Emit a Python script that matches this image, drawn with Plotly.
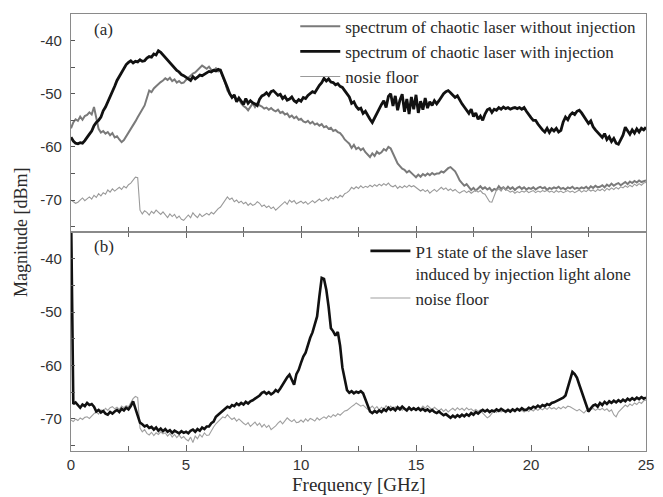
import numpy as np
import plotly.graph_objects as go

freq = [round(i * 0.1, 1) for i in range(251)]

# Panel (a): spectrum of chaotic laser with injection (black)
a_with = [
    -58.2,-58.9,-59.3,-59.4,-59.2,-59.3,-58.8,-58.3,-57.6,-57.0,
    -56.0,-55.4,-55.0,-54.4,-53.2,-52.5,-51.6,-50.7,-49.6,-48.6,
    -47.5,-46.8,-46.0,-45.4,-44.5,-44.1,-43.8,-44.2,-43.9,-44.0,
    -43.6,-43.9,-43.8,-43.3,-43.0,-43.1,-42.5,-42.7,-41.9,-42.2,
    -42.7,-43.2,-43.6,-44.3,-44.8,-45.2,-45.6,-45.9,-46.4,-46.6,
    -46.9,-47.1,-47.5,-46.8,-47.2,-46.9,-46.5,-46.6,-46.3,-46.0,
    -45.8,-45.9,-45.6,-45.7,-45.4,-45.6,-46.6,-47.7,-48.8,-50.0,
    -50.7,-50.2,-51.5,-50.8,-51.3,-52.0,-50.9,-51.8,-51.3,-51.7,
    -51.9,-52.2,-51.0,-50.4,-50.2,-49.8,-50.3,-49.6,-49.4,-49.9,
    -50.3,-50.1,-50.9,-50.5,-51.2,-51.0,-50.6,-51.3,-51.6,-51.1,
    -51.4,-50.7,-50.9,-50.3,-50.0,-49.6,-49.8,-49.0,-48.4,-47.9,
    -47.1,-47.6,-47.2,-47.8,-47.9,-48.3,-48.1,-48.6,-48.8,-49.4,
    -50.1,-50.6,-51.8,-51.5,-52.4,-52.9,-52.7,-53.7,-53.3,-54.2,
    -54.8,-55.4,-54.5,-53.6,-52.8,-52.0,-51.3,-52.6,-50.5,-50.0,
    -52.3,-50.4,-53.1,-51.2,-50.1,-53.4,-51.0,-53.8,-50.6,-52.9,
    -50.2,-53.6,-51.4,-53.0,-50.8,-52.7,-51.5,-52.2,-51.3,-51.9,
    -51.3,-50.6,-50.0,-49.6,-49.4,-49.8,-50.2,-50.7,-50.4,-51.2,
    -51.9,-52.5,-53.0,-53.7,-52.9,-54.3,-53.6,-54.8,-54.2,-55.0,
    -53.8,-53.0,-52.8,-53.5,-52.9,-53.1,-52.6,-52.9,-52.5,-52.8,
    -52.6,-52.9,-52.7,-52.6,-52.8,-52.6,-52.9,-52.6,-53.3,-54.0,
    -54.5,-55.0,-55.0,-55.7,-56.3,-56.8,-57.2,-56.5,-57.3,-56.6,
    -57.0,-56.5,-57.2,-56.9,-55.3,-54.4,-54.9,-54.0,-53.6,-53.9,
    -53.3,-53.1,-53.6,-54.2,-54.8,-55.6,-55.1,-56.2,-56.8,-57.3,
    -57.6,-58.2,-57.5,-58.6,-58.1,-59.0,-58.4,-59.3,-59.5,-58.6,
    -57.8,-56.3,-56.9,-57.6,-56.8,-57.4,-56.6,-57.2,-56.5,-56.8,
    -56.3]

# Panel (a): spectrum of chaotic laser without injection (grey)
a_without = [
    -56.5,-55.4,-54.8,-55.1,-54.3,-54.9,-54.2,-54.0,-53.5,-53.9,
    -52.5,-54.8,-56.6,-57.3,-57.0,-57.5,-57.2,-57.8,-57.4,-58.2,
    -58.0,-58.6,-59.1,-58.7,-58.0,-57.4,-56.8,-56.0,-55.2,-54.4,
    -53.6,-53.0,-52.2,-50.8,-49.4,-49.7,-49.0,-48.6,-48.1,-47.8,
    -47.5,-47.1,-47.4,-47.0,-47.6,-47.3,-47.9,-47.6,-48.0,-47.9,
    -47.4,-47.0,-46.5,-46.2,-46.0,-45.6,-45.2,-44.7,-45.0,-45.3,
    -44.9,-45.5,-45.6,-45.2,-45.8,-45.5,-46.8,-47.9,-49.4,-50.0,
    -50.6,-50.3,-51.2,-51.0,-51.8,-52.3,-52.6,-53.1,-52.4,-51.8,
    -52.5,-51.8,-52.2,-52.4,-52.8,-52.6,-53.0,-52.7,-53.1,-53.3,
    -53.0,-53.6,-53.4,-53.9,-53.7,-54.4,-54.1,-54.6,-54.3,-54.9,
    -54.7,-55.2,-55.4,-55.1,-55.6,-55.3,-55.8,-55.6,-56.0,-55.7,
    -56.3,-56.1,-56.6,-56.4,-57.0,-56.8,-57.2,-57.4,-57.9,-58.6,
    -59.0,-59.4,-60.2,-59.6,-60.4,-60.1,-60.6,-60.3,-61.0,-61.4,
    -61.9,-61.2,-61.7,-60.9,-61.3,-61.0,-60.4,-60.7,-60.0,-60.3,
    -61.2,-62.2,-63.1,-63.6,-64.1,-64.3,-64.8,-64.5,-65.0,-65.3,
    -65.7,-65.2,-65.6,-65.1,-65.4,-65.0,-65.3,-64.9,-65.2,-65.0,
    -65.0,-64.6,-64.8,-64.3,-64.0,-63.8,-64.2,-64.6,-65.4,-66.3,
    -66.8,-67.3,-67.0,-67.6,-68.1,-67.7,-68.2,-67.8,-67.4,-67.9,
    -67.6,-68.0,-67.7,-68.3,-67.9,-68.1,-67.4,-67.9,-67.6,-68.0,
    -67.5,-67.9,-67.6,-68.1,-67.7,-67.5,-67.9,-67.6,-68.0,-67.7,
    -67.9,-67.6,-68.0,-67.7,-67.5,-67.8,-67.6,-68.1,-67.7,-67.9,
    -67.6,-67.8,-67.5,-67.9,-67.7,-68.0,-67.6,-67.8,-67.5,-67.9,
    -67.7,-67.9,-67.6,-67.8,-67.5,-67.9,-67.4,-67.7,-67.3,-67.6,
    -67.5,-67.2,-67.6,-67.1,-67.4,-66.9,-67.3,-67.0,-66.8,-67.2,
    -66.9,-66.6,-67.0,-66.5,-66.8,-66.4,-66.7,-66.3,-66.6,-66.4,
    -66.3]

# Panel (a): noise floor (light grey)
a_noise = [
    -70.0,-70.3,-70.6,-70.4,-70.0,-69.6,-70.1,-69.7,-69.4,-69.8,
    -69.1,-69.5,-68.8,-69.2,-68.6,-68.9,-68.1,-68.5,-67.9,-68.3,
    -67.9,-67.6,-68.0,-67.4,-67.7,-67.1,-66.8,-66.2,-65.7,-65.8,
    -71.9,-72.6,-72.0,-72.3,-72.8,-72.1,-72.5,-71.9,-72.3,-72.7,
    -72.2,-72.8,-73.3,-72.6,-73.1,-72.7,-73.4,-73.0,-73.6,-73.8,
    -73.2,-72.8,-73.3,-72.4,-72.9,-73.3,-72.6,-73.1,-72.8,-72.5,
    -72.8,-72.3,-72.6,-72.0,-71.6,-71.3,-70.7,-70.0,-69.4,-69.9,
    -69.6,-70.3,-70.0,-70.5,-70.2,-70.7,-70.4,-71.0,-70.6,-71.0,
    -70.8,-70.3,-70.6,-71.2,-70.9,-71.4,-71.1,-71.6,-71.3,-71.9,
    -71.5,-71.0,-70.6,-70.3,-70.8,-70.0,-70.4,-70.1,-70.7,-70.4,
    -70.2,-70.6,-70.3,-70.8,-70.4,-70.1,-70.5,-70.2,-69.8,-70.2,
    -70.0,-69.6,-70.1,-69.5,-69.8,-69.3,-69.6,-69.1,-69.4,-68.8,
    -68.6,-68.2,-67.6,-67.9,-67.5,-67.8,-67.3,-67.7,-67.4,-67.6,
    -67.2,-67.5,-67.1,-67.4,-67.0,-67.3,-66.9,-67.2,-66.8,-67.3,
    -67.5,-67.2,-67.8,-67.4,-67.7,-67.3,-67.6,-67.2,-67.5,-67.3,
    -67.6,-67.9,-68.3,-68.0,-68.4,-68.1,-68.7,-68.3,-68.0,-68.4,
    -67.9,-67.6,-68.0,-67.7,-68.2,-67.9,-68.3,-68.0,-68.4,-68.7,
    -68.4,-68.2,-68.6,-68.3,-68.7,-68.4,-68.1,-68.5,-68.2,-68.7,
    -68.9,-69.6,-70.3,-70.4,-69.2,-68.1,-67.9,-68.3,-67.6,-68.0,
    -68.2,-68.5,-68.3,-68.7,-68.4,-68.6,-68.3,-68.5,-68.2,-68.6,
    -68.4,-68.2,-68.6,-68.3,-68.5,-68.2,-68.4,-68.1,-68.5,-68.3,
    -68.6,-68.2,-68.5,-68.3,-68.6,-68.4,-68.2,-68.5,-68.3,-68.6,
    -68.4,-68.1,-68.5,-68.2,-68.4,-68.0,-68.3,-68.1,-68.4,-68.0,
    -68.2,-67.9,-68.3,-67.8,-68.1,-67.7,-68.0,-67.6,-67.9,-67.5,
    -67.7,-67.3,-67.6,-67.2,-67.5,-67.0,-67.3,-66.9,-67.2,-66.8,
    -66.7]

# Panel (b): P1 state of the slave laser (black)
b_p1 = [
    -30.0,-67.2,-66.9,-67.5,-67.9,-67.3,-67.6,-67.0,-67.4,-67.2,
    -67.7,-68.6,-68.3,-68.8,-68.5,-69.0,-69.2,-68.7,-69.0,-68.6,
    -68.3,-68.7,-68.1,-68.4,-67.9,-68.2,-67.6,-66.7,-67.9,-69.5,
    -70.7,-71.0,-71.4,-71.2,-71.7,-71.5,-72.0,-71.6,-72.2,-71.8,
    -72.3,-71.9,-72.4,-72.1,-72.6,-72.2,-72.5,-72.7,-72.3,-72.6,
    -72.4,-72.7,-72.2,-72.0,-72.4,-71.9,-72.2,-71.6,-71.9,-71.4,
    -71.4,-70.8,-70.5,-69.6,-69.2,-68.8,-68.5,-68.0,-67.7,-67.9,
    -67.4,-67.6,-67.1,-67.4,-67.0,-67.3,-66.8,-67.1,-66.7,-66.5,
    -66.2,-66.0,-65.6,-65.1,-64.9,-65.3,-65.0,-65.4,-65.1,-64.6,
    -64.9,-64.3,-63.6,-62.8,-62.2,-61.7,-62.6,-63.6,-61.6,-60.8,
    -59.5,-58.3,-57.6,-56.0,-54.8,-53.8,-52.4,-50.8,-47.0,-43.6,
    -43.8,-45.8,-49.0,-53.0,-53.6,-54.4,-53.7,-56.3,-60.4,-62.8,
    -64.6,-65.1,-64.8,-65.2,-64.9,-65.1,-64.8,-65.2,-66.4,-67.8,
    -68.6,-68.9,-68.5,-68.8,-68.4,-68.7,-68.2,-68.5,-67.9,-68.3,
    -68.0,-68.4,-67.8,-68.2,-67.7,-68.1,-68.4,-67.9,-68.3,-68.0,
    -68.3,-68.0,-68.4,-68.1,-68.5,-68.2,-68.6,-68.3,-68.7,-68.9,
    -68.6,-69.0,-69.3,-69.1,-69.5,-69.8,-69.4,-69.7,-69.3,-69.6,
    -69.2,-69.5,-69.1,-69.4,-68.9,-69.2,-68.7,-69.0,-68.6,-68.3,
    -68.6,-68.3,-68.7,-68.4,-68.6,-68.2,-68.5,-68.1,-68.4,-68.6,
    -68.3,-68.6,-68.2,-68.5,-68.1,-68.4,-68.0,-68.3,-68.3,-67.9,
    -68.1,-67.7,-67.9,-67.5,-67.8,-67.4,-67.6,-67.2,-67.4,-67.0,
    -66.9,-66.7,-66.5,-66.3,-66.0,-65.6,-64.0,-62.5,-61.2,-61.6,
    -62.3,-63.6,-64.9,-65.8,-67.2,-68.6,-68.0,-67.5,-67.3,-67.7,
    -67.0,-67.4,-66.8,-67.2,-66.7,-67.0,-66.6,-66.9,-66.5,-66.8,
    -66.4,-66.7,-66.2,-66.5,-66.1,-66.4,-66.0,-66.3,-65.9,-66.2,
    -66.0]

# Panel (b): noise floor (light grey)
b_noise = [
    -70.2,-70.5,-70.0,-70.3,-69.8,-70.1,-69.7,-69.6,-69.9,-69.4,
    -69.0,-68.7,-69.1,-68.3,-68.6,-68.0,-68.4,-67.9,-67.7,-68.1,
    -67.8,-68.2,-67.6,-67.9,-67.5,-67.7,-66.9,-66.2,-65.8,-66.0,
    -71.7,-72.4,-72.0,-72.7,-73.0,-72.5,-73.1,-72.6,-72.9,-72.4,
    -72.8,-72.6,-73.2,-72.7,-73.4,-72.9,-73.5,-73.0,-73.6,-73.3,
    -73.8,-74.1,-73.4,-74.4,-73.2,-73.7,-72.9,-73.4,-72.6,-73.1,
    -73.0,-72.2,-71.5,-70.9,-70.5,-70.0,-69.6,-69.8,-69.2,-69.7,
    -70.1,-69.8,-70.4,-70.0,-70.5,-70.8,-71.1,-70.7,-71.4,-71.0,
    -70.6,-71.2,-70.8,-71.5,-71.0,-71.6,-71.2,-72.0,-71.7,-71.3,
    -70.8,-70.4,-70.9,-70.3,-69.8,-70.2,-70.5,-70.1,-70.7,-70.6,
    -70.2,-70.6,-70.0,-70.4,-69.9,-70.1,-70.4,-69.8,-70.2,-69.9,
    -69.6,-69.9,-69.4,-69.7,-69.2,-69.5,-69.0,-69.3,-68.8,-68.5,
    -68.4,-68.0,-67.7,-67.4,-67.0,-67.3,-67.6,-67.4,-67.9,-68.2,
    -68.0,-67.6,-68.1,-67.7,-68.3,-67.8,-68.2,-67.5,-68.0,-67.6,
    -68.1,-67.7,-68.2,-67.8,-68.4,-67.9,-68.3,-67.7,-68.1,-67.8,
    -68.2,-67.8,-68.1,-67.6,-68.0,-67.5,-67.9,-68.3,-67.8,-68.2,
    -68.5,-68.1,-68.6,-68.2,-68.7,-68.3,-68.0,-68.4,-67.9,-68.3,
    -68.0,-68.4,-67.9,-68.3,-68.1,-68.5,-68.2,-68.6,-68.3,-68.9,
    -69.3,-69.8,-69.5,-68.9,-68.4,-68.8,-68.3,-68.7,-68.4,-68.9,
    -68.5,-68.8,-68.3,-68.7,-68.2,-68.6,-68.4,-68.7,-68.3,-68.6,
    -68.2,-68.5,-68.1,-68.4,-68.0,-68.3,-67.9,-68.2,-67.8,-68.1,
    -67.9,-68.2,-67.8,-68.1,-67.7,-68.0,-67.6,-67.7,-68.0,-68.3,
    -68.5,-68.2,-68.6,-68.9,-68.4,-68.7,-68.3,-68.0,-68.4,-68.1,
    -68.3,-68.0,-68.4,-68.1,-68.6,-68.3,-69.2,-69.6,-68.7,-68.2,
    -67.8,-67.4,-67.7,-67.2,-67.5,-67.0,-67.3,-66.8,-67.1,-66.6,
    -66.5]

x_ticks = [0, 5, 10, 15, 20, 25]
y_ticks = [-70, -60, -50, -40]
y_tick_text = ["-70", "-60", "-50", "-40"]

serif = "Liberation Serif, Times New Roman, serif"
sans = "Liberation Sans, Arial, sans-serif"
txt = "#2a2a2a"
axc = "#8a8a8a"

fig = go.Figure()
# panel (a)
fig.add_trace(go.Scatter(x=freq, y=a_without, mode="lines", xaxis="x2", yaxis="y2",
                         line=dict(color="#7a7a7a", width=2),
                         name="spectrum of chaotic laser without injection", legend="legend"))
fig.add_trace(go.Scatter(x=freq, y=a_with, mode="lines", xaxis="x2", yaxis="y2",
                         line=dict(color="#111111", width=2.8),
                         name="spectrum of chaotic laser with injection", legend="legend"))
fig.add_trace(go.Scatter(x=freq, y=a_noise, mode="lines", xaxis="x2", yaxis="y2",
                         line=dict(color="#9a9a9a", width=1.1),
                         name="nosie floor", legend="legend"))
# panel (b)
fig.add_trace(go.Scatter(x=freq, y=b_noise, mode="lines", xaxis="x", yaxis="y",
                         line=dict(color="#a0a0a0", width=1.1),
                         name="noise floor", legend="legend2"))
fig.add_trace(go.Scatter(x=freq, y=b_p1, mode="lines", xaxis="x", yaxis="y",
                         line=dict(color="#111111", width=2.6),
                         name="P1 state of the slave laser<br>induced by injection light alone",
                         legend="legend2"))

yax = dict(range=[-76, -35], tickvals=y_ticks, ticktext=y_tick_text, ticks="inside", ticklen=4,
           tickcolor="#555", showline=True, linecolor=axc, linewidth=1.2, mirror=True,
           showgrid=False, zeroline=False, ticklabelstandoff=5,
           tickfont=dict(family=sans, size=15, color="#333"),
           minor=dict(dtick=5, tick0=-75, ticks="inside", ticklen=4, tickcolor="#555"))
xax = dict(range=[0, 25], tickvals=x_ticks, ticks="inside", ticklen=6, tickcolor="#666",
           showline=True, linecolor=axc, linewidth=1.2, showgrid=False, zeroline=False,
           tickfont=dict(family=sans, size=15, color="#333"),
           minor=dict(dtick=2.5, tick0=0, ticks="inside", ticklen=5, tickcolor="#666"))

split = 219 / 437
fig.update_layout(
    width=663, height=497,
    margin=dict(l=71, r=9, t=14, b=46),
    paper_bgcolor="white", plot_bgcolor="white",
    xaxis=dict(xax, anchor="y", mirror="ticks", ticklabelstandoff=0),
    yaxis=dict(yax, domain=[0, split], anchor="x"),
    xaxis2=dict(xax, anchor="y2", mirror=True, showticklabels=False, matches="x"),
    yaxis2=dict(yax, domain=[split, 1], anchor="x2"),
    legend=dict(x=0.39, y=1.012, xanchor="left", yanchor="top", bgcolor="rgba(0,0,0,0)",
                font=dict(family=serif, size=17, color=txt), tracegroupgap=0,
                itemwidth=40, traceorder="normal"),
    legend2=dict(x=0.512, y=split - 0.003, xanchor="left", yanchor="top",
                 bgcolor="rgba(0,0,0,0)", valign="top",
                 font=dict(family=serif, size=17, color=txt), traceorder="reversed",
                 itemwidth=40),
    showlegend=True,
    annotations=[
        dict(text="(a)", x=0.037, y=0.99, xref="paper", yref="paper", showarrow=False,
             xanchor="left", yanchor="top", font=dict(family=serif, size=17, color=txt)),
        dict(text="(b)", x=0.037, y=split - 0.008, xref="paper", yref="paper", showarrow=False,
             xanchor="left", yanchor="top", font=dict(family=serif, size=17, color=txt)),
        dict(text="Magnitude [dBm]", x=-0.088, y=0.5, xref="paper", yref="paper",
             showarrow=False, textangle=-90, xanchor="center", yanchor="middle",
             font=dict(family=serif, size=18, color=txt)),
        dict(text="Frequency [GHz]", x=0.5, y=-0.077, xref="paper", yref="paper",
             showarrow=False, xanchor="center", yanchor="middle",
             font=dict(family=serif, size=19, color=txt)),
    ],
)

fig.write_html("out.html")
